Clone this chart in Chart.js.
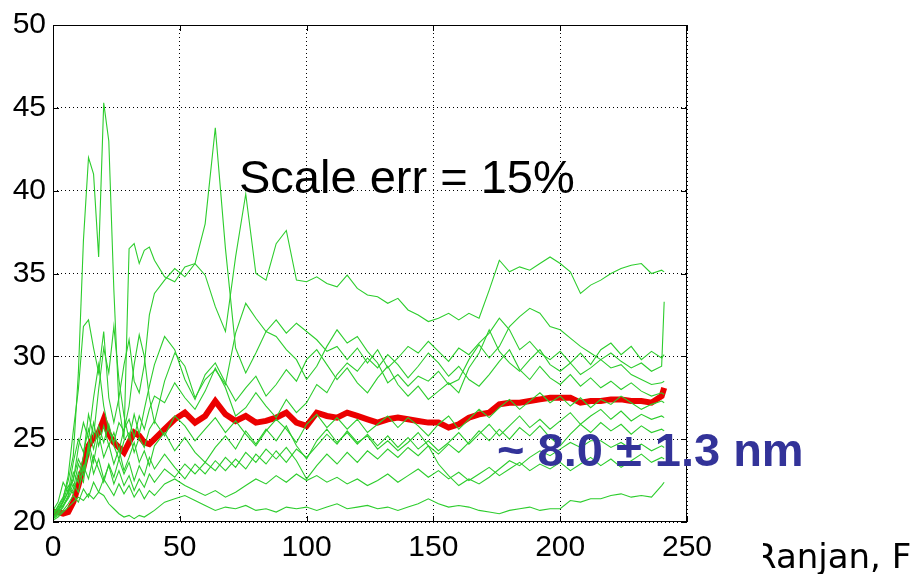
<!DOCTYPE html>
<html>
<head>
<meta charset="utf-8">
<script src="https://cdn.jsdelivr.net/npm/chart.js@4/dist/chart.umd.min.js"></script>
<style>
  html, body { margin: 0; padding: 0; background: #fff; }
  canvas { display: block; }
</style>
</head>
<body>
<canvas id="sizeChart" width="910" height="574"></canvas>
<script>
// shared x positions (step 2 at the start, then step 4)
var xs = [0,2,4,6,8,10,12,14,16,18,20,22,24,26,28,30,32,34,36,38,40,
  44,48,52,56,60,64,68,72,76,80,84,88,92,96,100,104,108,112,116,120,
  124,128,132,136,140,144,148,152,156,160,164,168,172,176,180,184,188,192,196,200,
  204,208,212,216,220,224,228,232,236,240,241];

// individual runs (green)
var run1 = [20.4,21,21.5,22.5,24,29,37,42,41,36,45.3,43,34,27,25,36.5,36.8,35.6,36.4,36.6,35.8,
  34.8,34.5,35.4,35.6,34.9,33,31.5,36,39.8,35,34.6,36.8,37.6,34.6,34.5,34.8,34.4,34.2,34.9,34.1,
  33.7,33.6,33.2,33.5,32.8,32.5,32.1,32.3,32.6,32.2,32.6,32.3,34,35.8,35.1,35.4,35.2,35.6,36,35.6,
  35.1,33.8,34.3,34.6,35,35.3,35.5,35.6,35,35.2,35.1];
var run2 = [20.6,20.9,21.4,22.8,25.5,28,31.8,32.2,30.5,29,31.5,27.5,26,27.5,29.5,31,28.5,27.8,29.5,32.5,33.8,
  34.6,35.3,34.8,35.6,38,43.8,36.5,30.5,29,30.2,31.5,32.2,31.4,32,31.5,31,30.3,30.6,29.8,30.5,
  29.6,30.4,29.3,29.9,30.6,30.2,30.9,30.3,29.7,30.5,30.1,30.8,31.4,32.3,31.6,30.4,30.9,30.2,29.8,30.3,
  29.6,30.2,29.5,30.4,30.8,30.1,30.6,29.8,30.3,29.9,30.1];
var run3 = [20.3,20.6,21.2,21.8,22.5,24.5,26,25,27.5,29.5,27,25.5,24.8,26,25.5,27,29.5,31.3,30,27.5,26,
  28.5,30.2,29.4,27.5,28.6,29.2,28.3,31.4,33.2,32.3,31.5,31.2,30.4,29.8,28.6,29.4,30.6,31.6,30.8,31.2,
  30.3,29.6,28.4,28.9,28.2,28.8,28.5,29.1,28.3,28.6,29.8,30.7,29.9,30.6,31.8,32.4,32.9,32.6,31.8,31.6,
  31.1,30.6,30.2,29.8,29.3,29.5,28.9,28.6,28.3,28.4,28.5];
var run4 = [20.5,20.8,21,21.6,23,22.4,24,26.5,25.2,28,30.5,29,31.8,28.6,26.4,25,26.5,25.3,26.8,28.2,29.5,
  31.2,30.4,28.6,27.4,28.9,29.6,28.4,27.3,28.1,28.8,27.6,28.3,29.2,28.5,29.8,30.4,29.5,28.6,29.3,28.4,
  27.8,28.7,29.4,28.3,27.6,28.2,27.4,27.9,28.4,27.8,29.3,30.2,31.6,30.3,29.6,29.1,29.8,30.4,29.5,29.1,
  29.6,28.9,29.3,29.8,30.2,29.7,29.3,29.6,29.1,29.4,33.3];
var run5 = [20.2,20.5,21,21.4,22,23.5,22.8,24.2,26,24.6,25.8,24.6,25.4,24.3,25.6,26.2,25.1,26.4,25.6,26.8,27.6,
  27.2,28.4,27.5,26.8,27.9,29.3,28.1,26.4,26.9,27.8,27,26.3,27.4,26.6,27.2,28.3,27.8,28.9,29.6,29.1,
  29.9,29.3,30.1,29.5,28.7,29.4,30.2,29.6,28.8,29.4,28.6,28.2,28.9,29.7,30.4,29.2,28.6,29.4,28.7,28.3,
  28.9,28.2,28.7,28.1,28.5,28,28.4,27.9,27.6,27.8,27.7];
var run6 = [20.7,21.2,22.4,21.8,23.6,25,24.2,25.6,24.4,25.8,24.8,25.9,24.6,23.8,24.9,25.4,24.2,25.1,24.5,25.6,26.1,
  25.2,26.4,25.8,24.9,25.6,26.3,25.4,26.1,25.3,24.6,25.5,26.2,25.6,24.8,25.9,26.5,25.7,26.3,25.6,26.2,
  25.4,25.9,26.4,25.7,26.3,25.8,25.2,25.9,26.4,25.6,26.2,26.8,26.3,26.9,27.4,26.8,27.3,27.8,27.2,27.6,
  27,27.5,26.9,27.4,27.1,27.6,27.2,26.8,27.1,27.3,27.2];
var run7 = [20.4,20.7,21.3,22.2,21.7,23,22.4,24.8,23.6,25.3,23.9,24.7,23.5,24.4,23.1,23.9,24.8,23.6,24.3,23.4,24.6,
  25.4,24.3,25.1,24.2,23.6,24.5,25.2,24.4,25.5,24.7,25.6,24.9,25.8,24.6,23.8,24.9,25.6,24.8,25.4,24.7,
  25.3,24.6,25.2,24.5,25.1,24.4,24.9,24.3,24.8,25.4,24.7,25.3,25.9,25.2,25.8,26.4,25.7,26.2,25.6,26.1,
  26.6,25.9,26.4,26.8,26.2,26.7,26.1,26.5,26.2,26.4,26.3];
var run8 = [20.3,20.5,20.9,21.5,22.3,21.8,23.4,22.6,24,23.2,22.4,23.5,22.7,23.8,22.9,23.6,22.5,23.4,22.8,23.9,23.2,
  24.1,23.3,22.6,23.5,22.9,23.7,23.1,23.8,23.2,24.1,23.5,24.3,23.6,24.4,23.9,24.6,25.3,24.7,25.5,24.8,
  25.2,24.4,24.9,24.3,24.8,25.4,24.6,24.1,24.7,24.2,24.8,25.5,24.9,25.6,25,25.7,25.2,25.8,25.1,24.6,
  25.3,25.9,25.4,26,25.5,25.9,25.3,25.8,25.4,25.6,25.5];
var run9 = [20.5,20.8,21.2,21.9,22.6,23.8,23.1,24.5,22.9,23.8,22.6,23.4,22.3,23.1,22.2,22.8,21.9,22.6,22.1,22.9,22.4,
  23.2,22.7,23.5,22.9,23.6,23.1,23.9,23.3,24.2,23.6,24.4,23.8,24.5,23.7,22.6,23.4,24.1,23.5,24.2,23.6,
  24.3,23.8,24.4,23.9,24.5,24,24.6,23.5,22.8,22.2,22.6,22.3,22.7,23.2,23.7,23.4,23.9,24.3,24,24.4,
  24.8,24.5,24.9,24.9,24.5,24.8,24.4,24.7,24.3,24.6,24.5];
var run10 = [20.2,20.4,20.7,21.1,21.6,21.2,22,21.5,22.4,21.8,22.6,22.1,21.6,22.3,21.7,22.2,21.5,22,21.4,21.9,21.6,
  22.3,22.6,22.2,21.9,21.6,21.9,21.5,21.8,22.2,22.6,22.3,22.8,22.4,22.9,22.5,22.8,22.4,22.7,22.3,22.6,
  22.2,22.5,22.9,22.4,22.8,23.2,22.7,23.1,22.6,23,22.5,22.9,23.3,22.8,23.2,23.6,23.1,23.5,23.2,23.6,
  23.1,23.5,23.9,23.4,23.8,23.3,23.7,24.1,23.6,23.9,23.8];
var run11 = [20.1,20.3,20.6,20.9,21.2,21.5,21.3,21.7,21.4,21.8,21.6,21.1,20.8,20.5,20.3,20.4,20.2,20.4,20.3,20.5,20.7,
  21.2,21.4,21.6,21.3,21,20.7,20.9,20.8,21,20.7,20.8,20.6,20.9,20.8,20.9,20.7,20.9,21.1,20.8,20.9,
  21,20.8,20.9,20.7,20.9,21.1,21.4,21.1,20.9,21,20.9,20.7,20.6,20.5,20.7,20.8,20.9,20.7,20.8,20.8,
  21.3,21.2,21.4,21.4,21.6,21.7,21.5,21.6,21.5,22.2,22.4];

// average (red)
var meanRun = [20.6,20.6,20.5,20.6,21.2,22.2,23.3,24.6,25.1,25.4,26.2,25.3,24.8,24.5,24.2,24.8,25.4,25.2,24.8,24.7,25,
  25.6,26.2,26.6,26,26.4,27.3,26.5,26.1,26.4,26,26.1,26.3,26.6,26,25.8,26.6,26.4,26.3,26.6,26.4,
  26.2,26,26.2,26.3,26.2,26.1,26,26,25.7,25.9,26.3,26.5,26.6,27.1,27.2,27.2,27.3,27.4,27.5,27.5,
  27.5,27.2,27.3,27.3,27.4,27.4,27.3,27.3,27.2,27.6,28.1];

var runs = [run1, run2, run3, run4, run5, run6, run7, run8, run9, run10, run11];
var xTicks = [0, 50, 100, 150, 200, 250];
var yTicks = [20, 25, 30, 35, 40, 45, 50];

function toPoints(ys) {
    return ys.map(function(y, i) { return { x: xs[i], y: y }; });
}

var datasets = runs.map(function(r) {
    return { data: toPoints(r), borderColor: 'rgb(45,205,45)', borderWidth: 1.1 };
});
datasets.push({ data: toPoints(meanRun), borderColor: 'rgb(235,0,0)', borderWidth: 6 });

// box, inward ticks and the text notes
var decorPlugin = {
    id: 'decor',
    afterDatasetsDraw: function(chart) {
        var ctx = chart.ctx;
        var a = chart.chartArea;
        var sx = chart.scales.x, sy = chart.scales.y;
        ctx.save();
        ctx.strokeStyle = '#000';
        ctx.lineWidth = 1;
        ctx.strokeRect(a.left + 0.5, a.top + 0.5, a.right - a.left - 1, a.bottom - a.top - 1);
        ctx.beginPath();
        xTicks.forEach(function(v) {
            var px = Math.round(sx.getPixelForValue(v)) + 0.5;
            ctx.moveTo(px, a.bottom); ctx.lineTo(px, a.bottom - 6);
            ctx.moveTo(px, a.top); ctx.lineTo(px, a.top + 6);
        });
        yTicks.forEach(function(v) {
            var py = Math.round(sy.getPixelForValue(v)) + 0.5;
            ctx.moveTo(a.left, py); ctx.lineTo(a.left + 6, py);
            ctx.moveTo(a.right, py); ctx.lineTo(a.right - 6, py);
        });
        ctx.stroke();

        ctx.textBaseline = 'alphabetic';
        ctx.textAlign = 'left';
        ctx.fillStyle = '#000';
        ctx.font = '47px "Liberation Sans", Arial, sans-serif';
        ctx.fillText('Scale err = 15%', 239, 193);

        ctx.fillStyle = 'rgb(51,51,153)';
        ctx.font = 'bold 47px "Liberation Sans", Arial, sans-serif';
        ctx.fillText('~ 8.0 \u00b1 1.3 nm', 497, 466);

        // the name at the bottom right is cut on its left side
        ctx.fillStyle = '#000';
        ctx.font = '34px "DejaVu Sans", sans-serif';
        ctx.fillText('Ranjan, F', 753, 568);
        ctx.fillStyle = '#fff';
        ctx.fillRect(740, 530, 23, 44);
        ctx.restore();
    }
};

var ctx = document.getElementById('sizeChart').getContext('2d');
new Chart(ctx, {
    type: 'line',
    data: { datasets: datasets },
    options: {
        responsive: false,
        animation: false,
        devicePixelRatio: 1,
        layout: { padding: { top: 24, right: 223, left: 0, bottom: 0 } },
        elements: { point: { radius: 0 }, line: { tension: 0 } },
        plugins: { legend: { display: false }, tooltip: { enabled: false } },
        scales: {
            x: {
                type: 'linear',
                min: 0, max: 250,
                afterFit: function(scale) { scale.height = 52; },
                ticks: { stepSize: 50, padding: 8, color: '#000',
                         font: { family: '"Liberation Sans", Arial, sans-serif', size: 30 } },
                grid: { color: '#000', lineWidth: 1, drawTicks: false },
                border: { display: false, dash: [1, 3] }
            },
            y: {
                min: 20, max: 50,
                afterFit: function(scale) { scale.width = 53; },
                ticks: { stepSize: 5, padding: 7, color: '#000',
                         font: { family: '"Liberation Sans", Arial, sans-serif', size: 30 } },
                grid: { color: '#000', lineWidth: 1, drawTicks: false },
                border: { display: false, dash: [1, 3] }
            }
        }
    },
    plugins: [decorPlugin]
});
</script>
</body>
</html>
